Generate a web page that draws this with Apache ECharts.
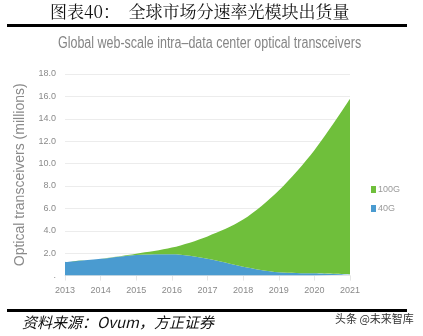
<!DOCTYPE html>
<html><head><meta charset="utf-8">
<script src="https://cdn.jsdelivr.net/npm/echarts@6/dist/echarts.min.js"></script>
<style>html,body{margin:0;padding:0;background:#fff}#c{width:423px;height:336px}</style>
</head><body><div id="c"></div>
<script>
const years = ['2013','2014','2015','2016','2017','2018','2019','2020','2021'];
const g40 = [1.2, 1.5, 1.85, 1.9, 1.5, 0.8, 0.3, 0.2, 0.1];
const g100 = [0, 0, 0.1, 0.6, 2.0, 4.2, 7.3, 11.0, 15.7];
const yTicks = ['.', '2.0', '4.0', '6.0', '8.0', '10.0', '12.0', '14.0', '16.0', '18.0'];

const chart = echarts.init(document.getElementById('c'), null, {renderer:'canvas'});
const sans = '"Liberation Sans", Arial, sans-serif';
chart.setOption({
  animation:false,
  legend:{orient:'vertical', left:366, top:180, itemWidth:5, itemHeight:7, itemGap:10,
    icon:'rect', data:['100G','40G'],
    textStyle:{fontFamily:sans, fontSize:9, color:'#9a9a9a', padding:[0,0,0,-3]}},
  grid:{left:65, right:73, top:74, bottom:60.4},
  xAxis:{type:'category', data:years, boundaryGap:false,
    axisLine:{show:true, lineStyle:{color:'#e6e6e6'}},
    axisTick:{show:true, lineStyle:{color:'#e6e6e6'}},
    axisLabel:{fontFamily:sans, fontSize:9, color:'#8a8a8a', margin:10}},
  yAxis:{type:'value', min:0, max:18, interval:2,
    name:'Optical transceivers (millions)', nameLocation:'middle', nameGap:35,
    nameTextStyle:{fontFamily:sans, fontSize:14, color:'#8a8a8a'},
    axisLine:{show:false}, axisTick:{show:false},
    splitLine:{lineStyle:{color:'#ececec'}},
    axisLabel:{fontFamily:sans, fontSize:9, color:'#8a8a8a', margin:9,
      formatter:(v)=>yTicks[Math.round(v/2)]}},
  series:[
    {name:'40G', type:'line', stack:'t', data:g40, smooth:0.3, symbol:'none',
      lineStyle:{width:0}, itemStyle:{color:'#4a9bd0'}, areaStyle:{color:'#4a9bd0', opacity:1}},
    {name:'100G', type:'line', stack:'t', data:g100, smooth:0.3, symbol:'none',
      lineStyle:{width:0}, itemStyle:{color:'#6fbf3b'}, areaStyle:{color:'#6fbf3b', opacity:1}}
  ],
  graphic:[
    {type:'text', x:58, y:36, scaleX:0.78, style:{text:'Global web-scale intra\u2013data center optical transceivers',
      font:'16px "Liberation Sans", Arial, sans-serif', fill:'#858585'}},
    {type:'text', x:50, y:3, style:{text:'图表40：  全球市场分速率光模块出货量',
      font:'17px "Noto Serif CJK SC","Noto Sans CJK SC", serif', fill:'#111'}},
    {type:'rect', shape:{x:7, y:24, width:400, height:3}, style:{fill:'#000'}},
    {type:'rect', shape:{x:7, y:309, width:400, height:3}, style:{fill:'#000'}},
    {type:'text', x:22, y:315, style:{text:'资料来源：Ovum，方正证券',
      font:'italic 15px "Noto Sans CJK SC", sans-serif', fill:'#111'}},
    {type:'text', x:335, y:313, style:{text:'头条 @未来智库',
      font:'11px "Noto Sans CJK SC", sans-serif', fill:'#333'}}
  ]
});
</script></body></html>
